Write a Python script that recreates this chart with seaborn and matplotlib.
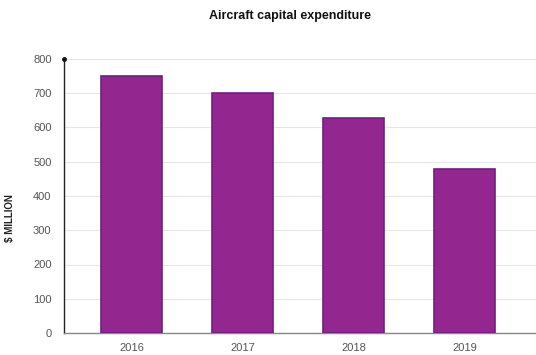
import matplotlib
matplotlib.use("Agg")
import matplotlib.pyplot as plt
import seaborn as sns
import pandas as pd

years = ["2016", "2017", "2018", "2019"]
capex = [750, 700, 628, 480]
y_ticks = [0, 100, 200, 300, 400, 500, 600, 700, 800]

sns.set_theme(style="white")
plt.rcParams["font.family"] = ["Liberation Sans", "DejaVu Sans"]

df = pd.DataFrame({"year": years, "capex": capex})

fig = plt.figure(figsize=(5.36, 3.55), dpi=100)
ax = fig.add_axes([64 / 536, 22 / 355, 1 - 64 / 536, (333 - 59) / 355])

sns.barplot(data=df, x="year", y="capex", color="#93278F", width=0.55,
            edgecolor="#70207F", linewidth=1.2, saturation=1, ax=ax, zorder=3)

ax.set_ylim(0, 800)
ax.set_xlim(-0.61, 3.64)
ax.set_yticks(y_ticks)
ax.set_yticklabels([str(t) for t in y_ticks], color="#555555", fontsize=8)
ax.tick_params(axis="x", colors="#555555", labelsize=8, length=0, pad=7)
ax.tick_params(axis="y", length=0, pad=9)
ax.yaxis.grid(True, color="#e6e6e6", linewidth=0.8, zorder=0)
ax.set_axisbelow(True)

for side in ["top", "right"]:
    ax.spines[side].set_visible(False)
ax.spines["left"].set_color("#222222")
ax.spines["left"].set_linewidth(1.0)
ax.spines["bottom"].set_color("#888888")
ax.spines["bottom"].set_linewidth(1.0)
ax.plot([0], [800], marker="o", markersize=2.5, color="#111111",
        transform=ax.get_yaxis_transform(), clip_on=False, zorder=5)

ax.set_xlabel("")
ax.set_ylabel("$ MILLION", fontsize=7, fontweight="bold", color="#222222")
ax.yaxis.set_label_coords(-0.104, 0.42)
fig.text(290 / 536, 1 - 16 / 355, "Aircraft capital expenditure", ha="center",
         va="center", fontsize=9, fontweight="bold", color="#111111")

fig.savefig("out.png", dpi=100)
